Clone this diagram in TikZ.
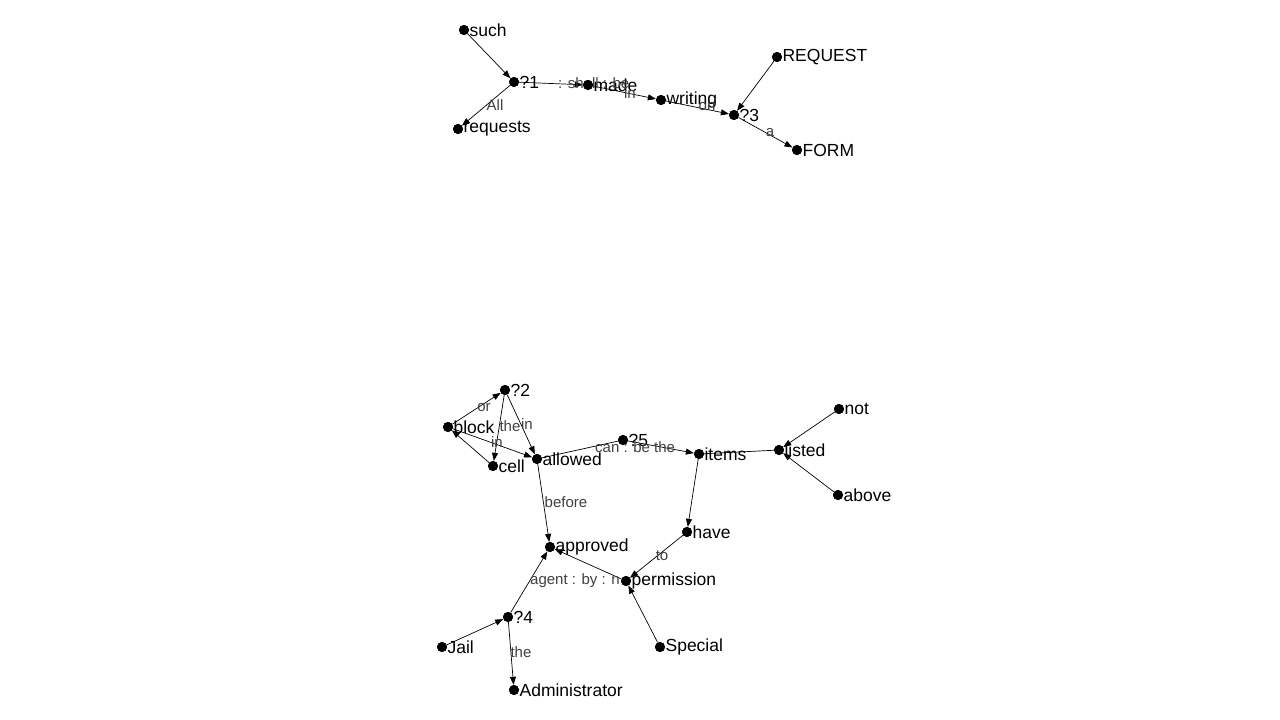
\documentclass[tikz,border=0pt]{standalone}
\usepackage{fontspec}
\setmainfont{Liberation Sans}
\usetikzlibrary{arrows.meta}
\begin{document}
\begin{tikzpicture}[x=1pt,y=-1pt,
  dot/.style={circle,fill=black,inner sep=0pt,minimum size=10pt},
  word/.style={font=\fontsize{17.5}{20}\selectfont,text=black,inner sep=0pt},
  rel/.style={font=\fontsize{15}{18}\selectfont,text=black!75,inner sep=0pt},
  dep/.style={draw=black,line width=0.7pt,-{Triangle[length=8pt,width=6pt]}},
  link/.style={draw=black,line width=0.7pt}]
\fill[white] (0,0) rectangle (1280,720);
\useasboundingbox (0,0) rectangle (1280,720);

% word node: name, x, y, text
\newcommand\wnode[4]{\node[dot,label={[word,label distance=0.2pt]right:#4}] (#1) at (#2,#3) {};}

% ---- first sentence ----
\wnode{such}{464}{30}{such}
\wnode{q1}{514}{82}{?1}
\wnode{requests}{458}{129}{requests}
\wnode{made}{588}{85}{made}
\wnode{writing}{661}{100}{writing}
\wnode{q3}{734}{115}{?3}
\wnode{REQUEST}{777}{57}{REQUEST}
\wnode{FORM}{797}{150}{FORM}

\draw[dep] (such) -- (q1);
\draw[dep] (q1) -- (requests);
\draw[dep] (q1) -- (made);
\draw[dep] (made) -- (writing);
\draw[dep] (writing) -- (q3);
\draw[dep] (REQUEST) -- (q3);
\draw[dep] (q3) -- (FORM);

\node[rel] (lAll) at (495,105) {All};
\node[rel,anchor=west] (lshall) at (558,83) {: shall : be};
\node[rel] (lin1) at (630,93) {in};
\node[rel] (lon) at (707,107) {on};
\node[rel] (la) at (770,133) {a};

% ---- second sentence ----
\wnode{q2}{505}{390}{?2}
\wnode{block}{448}{427}{block}
\wnode{cell}{493}{466}{cell}
\wnode{allowed}{537}{459}{allowed}
\wnode{q5}{623}{440}{?5}
\wnode{items}{699}{454}{items}
\wnode{listed}{779}{450}{listed}
\wnode{not}{839}{409}{not}
\wnode{above}{838}{495}{above}
\wnode{have}{687}{532}{have}
\wnode{approved}{550}{547}{approved}
\wnode{permission}{626}{581}{permission}
\wnode{q4}{508}{617}{?4}
\wnode{Jail}{442}{647}{Jail}
\wnode{Administrator}{514}{690}{Administrator}
\wnode{Special}{660}{647}{Special}

\draw[dep] (block) -- (q2);
\draw[dep] (q2) -- (cell);
\draw[dep] (q2) -- (allowed);
\draw[dep] (block) -- (allowed);
\draw[dep] (cell) -- (block);
\draw[link] (allowed) -- (q5);
\draw[dep] (q5) -- (items);
\draw[link] (items) -- (listed);
\draw[dep] (not) -- (listed);
\draw[dep] (above) -- (listed);
\draw[dep] (items) -- (have);
\draw[dep] (have) -- (permission);
\draw[dep] (Special) -- (permission);
\draw[dep] (allowed) -- (approved);
\draw[dep] (permission) -- (approved);
\draw[dep] (q4) -- (approved);
\draw[dep] (Jail) -- (q4);
\draw[dep] (q4) -- (Administrator);

\node[rel] (lor) at (484,408) {or};
\node[rel] (lthe1) at (510,426) {the};
\node[rel] (lin2) at (527,424) {in};
\node[rel] (lin3) at (497,442) {in};
\node[rel,anchor=west] (lcan) at (595,447) {can : be the};
\node[rel] (lbefore) at (566,502) {before};
\node[rel] (lto) at (662,556) {to};
\node[rel,anchor=west] (lagent) at (530,581) {agent : by : n};
\node[rel] (lthe2) at (521,652) {the};

% dots drawn again so they sit on top of the connectors
\foreach \n in {such,q1,requests,made,writing,q3,REQUEST,FORM,
  q2,block,cell,allowed,q5,items,listed,not,above,have,
  approved,permission,q4,Jail,Administrator,Special}
  \node[dot] at (\n) {};
\end{tikzpicture}
\end{document}
